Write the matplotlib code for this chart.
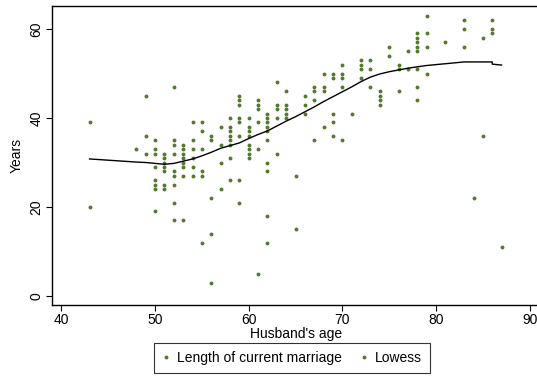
import matplotlib
matplotlib.use('Agg')
from matplotlib import pyplot as plt

# Husband's age -> years of current marriage
age_groups = [43, 48, 49, 50, 51, 52, 53, 54, 55, 56, 57, 58, 59, 60, 61, 62,
              63, 64, 65, 66, 67, 68, 69, 70, 71, 72, 73, 74, 75, 76, 77, 78,
              79, 81, 83, 84, 85, 86, 87]
years_by_age = [
    [39, 20],
    [33],
    [45, 36, 32],
    [35, 33, 32, 29, 26, 25, 24, 19],
    [32, 31, 30, 29, 28, 25, 24],
    [47, 35, 34, 32, 28, 27, 25, 21, 17],
    [34, 33, 32, 31, 30, 29, 27, 17],
    [39, 35, 33, 31, 29, 27],
    [39, 37, 33, 28, 27, 12],
    [36, 35, 22, 14, 3],
    [38, 34, 30, 24],
    [40, 38, 37, 36, 35, 34, 31, 26],
    [45, 44, 43, 40, 39, 36, 26, 21],
    [40, 38, 37, 36, 34, 33, 32, 31],
    [44, 43, 42, 39, 33, 5],
    [41, 40, 39, 38, 37, 35, 30, 28, 18, 12],
    [48, 43, 42, 40, 32],
    [46, 43, 42, 41, 40],
    [27, 15],
    [45, 43, 41],
    [47, 46, 44, 35],
    [50, 47, 46, 38],
    [50, 49, 41, 39, 36],
    [52, 50, 49, 47, 35],
    [41],
    [53, 52, 51, 49],
    [53, 51, 47],
    [46, 45, 44, 43],
    [56, 54],
    [52, 51, 46],
    [55, 51],
    [59, 58, 57, 56, 55, 51, 47, 44],
    [63, 59, 56, 50],
    [57],
    [62, 60, 56],
    [22],
    [58, 36],
    [62, 60, 59],
    [11],
]

# Lowess curve
lowess_x = [43, 48, 49, 50, 51, 52, 53, 54, 55, 56, 57, 58, 59, 60, 61, 62,
            63, 64, 65, 66, 67, 68, 69, 70, 71, 72, 73, 74, 75, 76, 77, 78,
            79, 81, 83, 84, 85, 86, 86, 87]
lowess_y = [30.8, 30.1, 30.0, 29.8, 29.6, 29.8, 30.3, 30.8, 31.5, 32.3, 33.2,
            33.8, 34.4, 35.4, 36.3, 37.1, 38.2, 39.3, 40.3, 41.4, 42.5, 43.7,
            44.8, 45.9, 47.0, 48.2, 49.2, 49.9, 50.4, 50.8, 51.2, 51.5, 51.8,
            52.2, 52.6, 52.6, 52.6, 52.6, 52.1, 51.9]

y_ticks = [0, 20, 40, 60]
x_ticks = [40, 50, 60, 70, 80, 90]

dot_color = '#55782f'


def main():
    plt.rcParams['font.family'] = ['Liberation Sans', 'DejaVu Sans']

    ages = []
    years = []
    for a, ys in zip(age_groups, years_by_age):
        ages += [a] * len(ys)
        years += ys

    fig = plt.figure(figsize=(5.37, 3.79), dpi=100)
    ax = fig.add_axes([52 / 537, 74 / 379, 488 / 537, 299 / 379])

    ax.plot(ages, years, linestyle='none', marker='o', markersize=2.8,
            color=dot_color, markeredgewidth=0, label='Length of current marriage')
    ax.plot(lowess_x, lowess_y, color='black', linewidth=1.0)
    # Stata-style legend: the lowess key also shows a dot
    ax.plot([], [], linestyle='none', marker='o', markersize=2.8,
            color=dot_color, markeredgewidth=0, label='Lowess')

    ax.set_xlim(38.99, 91.1)
    ax.set_ylim(-2.02, 65.17)
    ax.set_xticks(x_ticks)
    ax.set_yticks(y_ticks)
    ax.tick_params(axis='both', labelsize=10, length=4, width=0.8,
                   direction='out', pad=2)
    for lbl in ax.get_yticklabels():
        lbl.set_rotation(90)
        lbl.set_va('center')
    for s in ax.spines.values():
        s.set_linewidth(1.0)

    ax.set_ylabel('Years', fontsize=10, labelpad=4)
    fig.text(296 / 537, 1 - 334 / 379, "Husband's age", fontsize=10,
             ha='center', va='center')

    handles, labels = ax.get_legend_handles_labels()
    leg = fig.legend(handles, labels, loc='center',
                     bbox_to_anchor=(292 / 537, 1 - 358 / 379), ncol=2,
                     fontsize=10, frameon=True, fancybox=False,
                     handlelength=0.6, handletextpad=0.5, columnspacing=1.3,
                     borderpad=0.55)
    leg.get_frame().set_edgecolor('black')
    leg.get_frame().set_linewidth(0.8)

    fig.savefig('out.png', dpi=100)


if __name__ == '__main__':
    main()
